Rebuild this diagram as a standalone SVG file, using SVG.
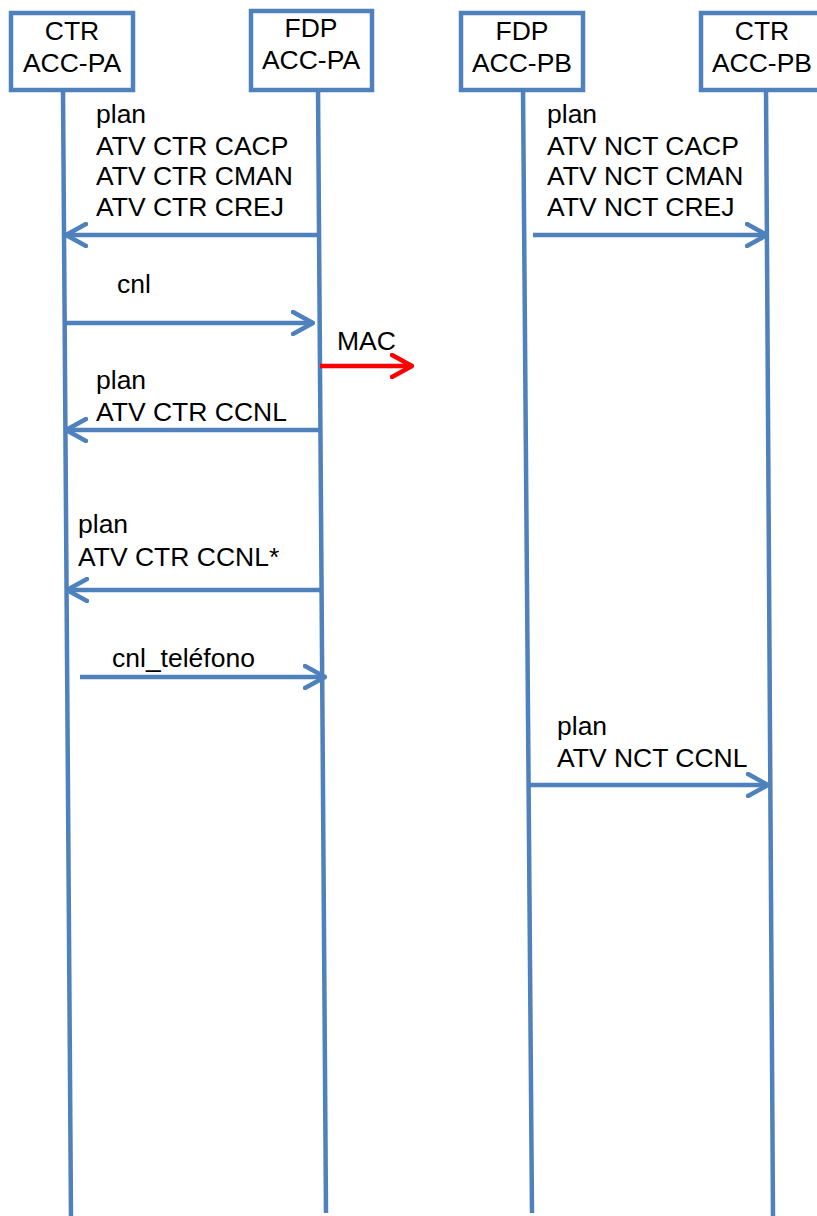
<svg xmlns="http://www.w3.org/2000/svg" width="817" height="1216" viewBox="0 0 817 1216">
<style>
.box{fill:#fff;stroke:#4F81BD;stroke-width:4.5}
.life{stroke:#4F81BD;stroke-width:4.5;fill:none}
.msg{stroke:#4F81BD;stroke-width:4.5;fill:none}
.red{stroke:#FF0000;stroke-width:4.5;fill:none}
text{font-family:"Liberation Sans",Arial,sans-serif;font-size:26.5px;fill:#000}
.c{text-anchor:middle}
</style>
<defs>
<marker id="ah" markerUnits="userSpaceOnUse" viewBox="0 0 24 26" refX="22" refY="13" markerWidth="24" markerHeight="26" orient="auto">
<path d="M2,2 L22,13 L2,24" fill="none" stroke="#4F81BD" stroke-width="4.5" stroke-linecap="round" stroke-linejoin="round"/>
</marker>
<marker id="ahr" markerUnits="userSpaceOnUse" viewBox="0 0 24 26" refX="22" refY="13" markerWidth="24" markerHeight="26" orient="auto">
<path d="M2,2 L22,13 L2,24" fill="none" stroke="#FF0000" stroke-width="4.5" stroke-linecap="round" stroke-linejoin="round"/>
</marker>
</defs>
<g id="lifelines">
<line class="life" x1="63" y1="90" x2="71" y2="1216"/>
<line class="life" x1="318" y1="88" x2="326" y2="1213"/>
<line class="life" x1="523" y1="88" x2="532" y2="1213"/>
<line class="life" x1="766" y1="90" x2="773" y2="1216"/>
</g>
<g id="node-ctr-pa">
<rect class="box" x="11" y="13" width="122" height="77"/>
<text class="c" x="72" y="40">CTR</text>
<text class="c" x="72" y="72">ACC-PA</text>
</g>
<g id="node-fdp-pa">
<rect class="box" x="251" y="11" width="121" height="79"/>
<text class="c" x="311" y="37">FDP</text>
<text class="c" x="311" y="69">ACC-PA</text>
</g>
<g id="node-fdp-pb">
<rect class="box" x="461" y="13" width="122" height="77"/>
<text class="c" x="522" y="40">FDP</text>
<text class="c" x="522" y="72">ACC-PB</text>
</g>
<g id="node-ctr-pb">
<rect class="box" x="701" y="13" width="122" height="77"/>
<text class="c" x="762" y="40">CTR</text>
<text class="c" x="762" y="72">ACC-PB</text>
</g>
<g id="connectors">
<line class="msg" x1="318" y1="235" x2="66" y2="235" marker-end="url(#ah)"/>
<line class="msg" x1="66" y1="323" x2="313" y2="323" marker-end="url(#ah)"/>
<line class="red" x1="320" y1="366" x2="412" y2="366" marker-end="url(#ahr)"/>
<line class="msg" x1="319" y1="430" x2="66" y2="430" marker-end="url(#ah)"/>
<line class="msg" x1="320" y1="590" x2="67" y2="590" marker-end="url(#ah)"/>
<line class="msg" x1="80" y1="677" x2="325" y2="677" marker-end="url(#ah)"/>
<line class="msg" x1="533" y1="235" x2="767" y2="235" marker-end="url(#ah)"/>
<line class="msg" x1="530" y1="785" x2="768" y2="785" marker-end="url(#ah)"/>
</g>
<g id="labels">
<text x="96" y="123">plan</text>
<text x="96" y="155">ATV CTR CACP</text>
<text x="96" y="185">ATV CTR CMAN</text>
<text x="96" y="216">ATV CTR CREJ</text>
<text x="117" y="293">cnl</text>
<text x="337" y="350">MAC</text>
<text x="96" y="389">plan</text>
<text x="96" y="421">ATV CTR CCNL</text>
<text x="78" y="533">plan</text>
<text x="78" y="566">ATV CTR CCNL*</text>
<text x="112" y="667">cnl_teléfono</text>
<text x="547" y="123">plan</text>
<text x="547" y="155">ATV NCT CACP</text>
<text x="547" y="185">ATV NCT CMAN</text>
<text x="547" y="216">ATV NCT CREJ</text>
<text x="557" y="735">plan</text>
<text x="557" y="767">ATV NCT CCNL</text>
</g>
</svg>
